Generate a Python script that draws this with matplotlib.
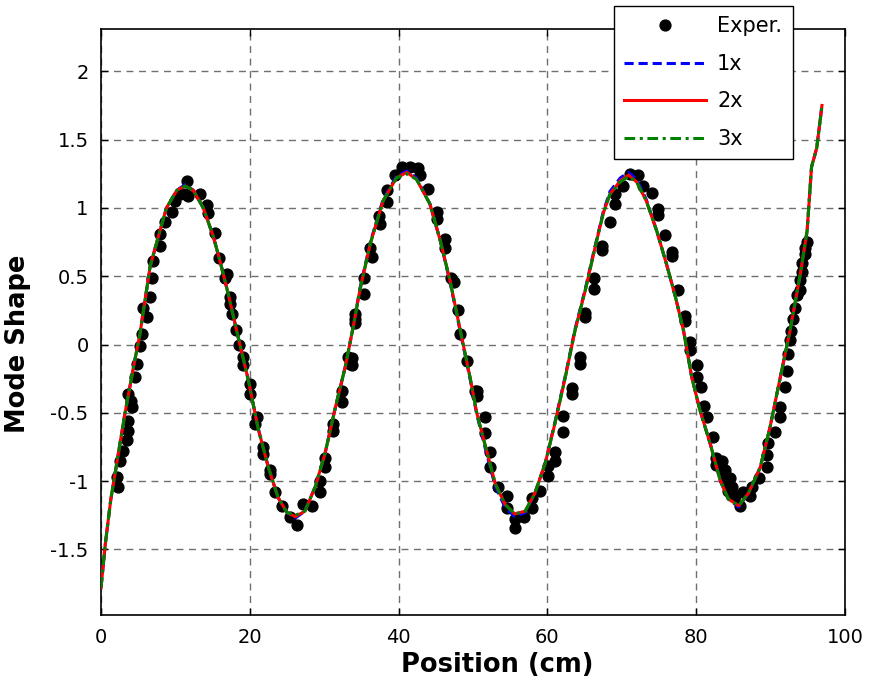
import matplotlib
matplotlib.use("Agg")
import matplotlib.pyplot as plt

plt.rcParams['font.family'] = ['DejaVu Sans']
plt.rcParams['axes.unicode_minus'] = False

# measured mode shape (dots)
exp_x = [2.1, 2.33, 2.55, 3.0, 3.45, 3.67, 3.67, 4.0, 3.67, 4.12, 4.57, 4.8, 5.24, 5.47, 5.7, 6.14,
         6.6, 6.8, 7.03, 7.9, 7.9, 8.6, 9.5, 9.95, 10.6, 11.3, 11.6, 11.7, 13.3, 14.2, 14.4, 15.3,
         15.8, 16.6, 16.9, 17.3, 17.3, 17.6, 18.2, 18.5, 19.1, 19.1, 20.0, 20.0, 20.7, 20.9, 21.8,
         21.8, 22.7, 22.7, 23.4, 24.3, 25.4, 26.3, 27.2, 28.3, 29.4, 29.4, 30.1, 30.1, 31.2, 31.2,
         32.4, 32.4, 33.2, 33.5, 33.7, 33.7, 34.1, 34.1, 34.1, 35.3, 35.3, 36.2, 36.4, 37.3, 37.5,
         38.4, 38.4, 39.5, 40.4, 41.5, 42.6, 42.9, 44.0, 45.1, 45.1, 46.2, 46.2, 47.1, 47.4, 48.0,
         48.3, 49.2, 50.3, 50.5, 50.5, 51.6, 51.6, 52.3, 52.3, 53.4, 54.5, 54.5, 55.6, 55.6, 56.8,
         57.9, 57.9, 59.0, 60.1, 60.1, 61.0, 61.0, 62.1, 62.1, 63.3, 63.3, 64.4, 64.4, 65.1, 65.1,
         66.2, 66.2, 67.3, 67.3, 68.4, 69.1, 69.1, 70.2, 71.1, 72.2, 72.9, 74.0, 74.9, 74.9, 75.8,
         76.7, 76.7, 77.6, 78.5, 78.5, 79.2, 79.2, 80.1, 80.1, 80.7, 81.0, 81.4, 82.3, 82.7, 82.7,
         83.4, 83.6, 83.9, 83.9, 84.3, 84.5, 84.8, 85.2, 85.9, 86.3, 87.2, 87.5, 88.4, 89.5, 89.5,
         89.7, 90.6, 91.3, 91.3, 91.9, 92.2, 92.4, 92.6, 92.8, 93.0, 93.3, 93.5, 94.0, 94.0, 94.2,
         94.2, 94.6, 94.6, 94.9]
exp_y = [-0.97, -1.045, -0.85, -0.78, -0.70, -0.63, -0.56, -0.41, -0.36, -0.46, -0.24, -0.14, -0.01,
         0.08, 0.27, 0.20, 0.35, 0.49, 0.61, 0.72, 0.81, 0.90, 0.97, 1.05, 1.10, 1.10, 1.20, 1.09,
         1.10, 1.02, 0.96, 0.82, 0.63, 0.49, 0.52, 0.35, 0.30, 0.22, 0.11, 0.0, -0.09, -0.15, -0.29,
         -0.36, -0.58, -0.53, -0.75, -0.80, -0.92, -0.95, -1.08, -1.18, -1.26, -1.32, -1.17, -1.18,
         -1.08, -1.0, -0.90, -0.83, -0.63, -0.58, -0.42, -0.34, -0.09, -0.14, -0.10, -0.15, 0.19,
         0.16, 0.22, 0.37, 0.49, 0.71, 0.64, 0.94, 0.88, 1.04, 1.13, 1.24, 1.30, 1.30, 1.29, 1.24,
         1.14, 0.97, 0.92, 0.77, 0.71, 0.49, 0.46, 0.25, 0.08, -0.12, -0.34, -0.34, -0.38, -0.53,
         -0.65, -0.79, -0.90, -1.04, -1.11, -1.20, -1.28, -1.34, -1.26, -1.20, -1.12, -1.07, -0.96,
         -0.89, -0.85, -0.79, -0.64, -0.52, -0.36, -0.32, -0.14, -0.09, 0.20, 0.23, 0.41, 0.49, 0.69,
         0.72, 0.90, 1.03, 1.10, 1.16, 1.25, 1.24, 1.16, 1.11, 0.99, 0.95, 0.80, 0.68, 0.65, 0.40,
         0.21, 0.17, 0.02, -0.04, -0.15, -0.24, -0.31, -0.45, -0.53, -0.68, -0.83, -0.88, -0.85,
         -0.93, -0.92, -1.0, -1.07, -0.98, -1.04, -1.11, -1.18, -1.08, -1.11, -1.04, -0.98, -0.90,
         -0.81, -0.72, -0.64, -0.53, -0.46, -0.31, -0.19, -0.07, 0.03, 0.10, 0.19, 0.27, 0.36, 0.40,
         0.47, 0.53, 0.60, 0.66, 0.71, 0.75]

# fitted mode shapes
fit_x = [0, 0.6, 1.3, 3.2, 4.35, 5.24, 6.6, 7.7, 8.8, 10.2, 11.3, 12.4, 13.75, 15.1, 16.0, 17.1,
         18.45, 19.8, 21.1, 22.5, 23.8, 25.0, 26.1, 27.4, 28.8, 30.1, 31.5, 32.8, 33.9, 34.8, 36.2,
         37.9, 39.7, 41.1, 42.4, 44.2, 45.6, 46.9, 48.3, 49.6, 50.5, 51.6, 53.0, 54.3, 55.6, 57.0,
         58.3, 59.7, 61.0, 62.4, 63.7, 65.1, 66.4, 67.5, 68.4, 69.8, 70.9, 72.0, 73.3, 74.7, 76.0,
         77.2, 78.3, 79.4, 80.5, 81.9, 83.2, 84.3, 85.7, 87.0, 88.6, 89.9, 91.3, 92.6, 94.0, 94.9,
         95.5, 96.2, 96.9]
fit_2x = [-1.78, -1.45, -1.14, -0.51, -0.17, 0.08, 0.57, 0.79, 1.0, 1.13, 1.16, 1.13, 1.0, 0.79,
          0.61, 0.37, 0.05, -0.26, -0.61, -0.90, -1.12, -1.23, -1.26, -1.22, -1.04, -0.80, -0.46,
          -0.17, 0.13, 0.40, 0.74, 1.05, 1.22, 1.26, 1.21, 1.03, 0.76, 0.47, 0.10, -0.24, -0.50,
          -0.73, -1.02, -1.17, -1.24, -1.22, -1.09, -0.87, -0.58, -0.24, 0.10, 0.40, 0.71, 0.96,
          1.10, 1.20, 1.24, 1.19, 1.05, 0.83, 0.59, 0.35, 0.10, -0.24, -0.48, -0.73, -0.99, -1.13,
          -1.18, -1.09, -0.90, -0.61, -0.24, 0.10, 0.52, 0.83, 1.30, 1.44, 1.75]
fit_1x = [-1.78, -1.45, -1.14, -0.51, -0.17, 0.08, 0.57, 0.79, 1.0, 1.13, 1.17, 1.13, 1.0, 0.79,
          0.61, 0.37, 0.05, -0.26, -0.61, -0.90, -1.12, -1.23, -1.27, -1.22, -1.04, -0.80, -0.46,
          -0.17, 0.13, 0.41, 0.75, 1.06, 1.23, 1.27, 1.22, 1.03, 0.76, 0.46, 0.09, -0.25, -0.51,
          -0.75, -1.04, -1.19, -1.26, -1.23, -1.09, -0.87, -0.57, -0.23, 0.11, 0.41, 0.72, 0.97,
          1.12, 1.22, 1.26, 1.21, 1.06, 0.83, 0.59, 0.35, 0.10, -0.24, -0.48, -0.73, -0.99, -1.13,
          -1.19, -1.09, -0.90, -0.61, -0.24, 0.10, 0.52, 0.83, 1.30, 1.44, 1.75]
fit_3x = [-1.78, -1.45, -1.14, -0.51, -0.17, 0.08, 0.57, 0.79, 1.0, 1.13, 1.16, 1.13, 1.0, 0.79,
          0.61, 0.37, 0.05, -0.26, -0.61, -0.90, -1.12, -1.23, -1.25, -1.22, -1.04, -0.80, -0.46,
          -0.17, 0.13, 0.40, 0.74, 1.05, 1.22, 1.25, 1.21, 1.03, 0.76, 0.47, 0.10, -0.24, -0.50,
          -0.73, -1.02, -1.17, -1.24, -1.22, -1.09, -0.87, -0.58, -0.24, 0.10, 0.40, 0.71, 0.96,
          1.10, 1.19, 1.23, 1.19, 1.05, 0.83, 0.59, 0.35, 0.10, -0.24, -0.48, -0.73, -0.99, -1.13,
          -1.18, -1.09, -0.90, -0.61, -0.24, 0.10, 0.52, 0.83, 1.30, 1.44, 1.75]

fig = plt.figure(figsize=(8.7, 6.82), dpi=100)
ax = fig.add_axes([0.1161, 0.0982, 0.8552, 0.8593])

ax.plot(exp_x, exp_y, 'o', color='black', ms=7.8, label='Exper.', zorder=2)
ax.plot(fit_x, fit_1x, color='blue', ls=(0, (3, 1.6)), lw=2.2, label='1x', zorder=3)
ax.plot(fit_x, fit_2x, color='red', ls='-', lw=2.2, label='2x', zorder=4)
ax.plot(fit_x, fit_3x, color='green', ls=(0, (3.5, 1.5, 1, 1.5)), lw=2.2, label='3x', zorder=5)

ax.set_xlim(0, 100)
ax.set_ylim(-1.98, 2.31)
ax.set_xticks([0, 20, 40, 60, 80, 100])
ax.set_yticks([-1.5, -1, -0.5, 0, 0.5, 1, 1.5, 2])
ax.set_yticklabels(['-1.5', '-1', '-0.5', '0', '0.5', '1', '1.5', '2'])
ax.tick_params(direction='in', top=True, right=True, length=5, width=1, labelsize=14, pad=9)
ax.grid(True, color='#707070', ls=(0, (5, 4)), lw=1)
for s in ax.spines.values():
    s.set_linewidth(1.2)

ax.set_xlabel('Position (cm)', fontsize=18.5, fontweight='bold')
ax.set_ylabel('Mode Shape', fontsize=18.5, fontweight='bold')
ax.xaxis.set_label_coords(0.532, -0.063)
ax.yaxis.set_label_coords(-0.094, 0.462)

leg = ax.legend(loc='upper left', bbox_to_anchor=(0.7057, 0.9912), bbox_transform=fig.transFigure,
                fontsize=15, handlelength=3.9, handletextpad=0.55, labelspacing=0.84, borderpad=0.5,
                borderaxespad=0, fancybox=False, framealpha=1, edgecolor='black')
leg.get_frame().set_linewidth(1)
leg.set_zorder(10)

fig.savefig('out.png', dpi=100)
